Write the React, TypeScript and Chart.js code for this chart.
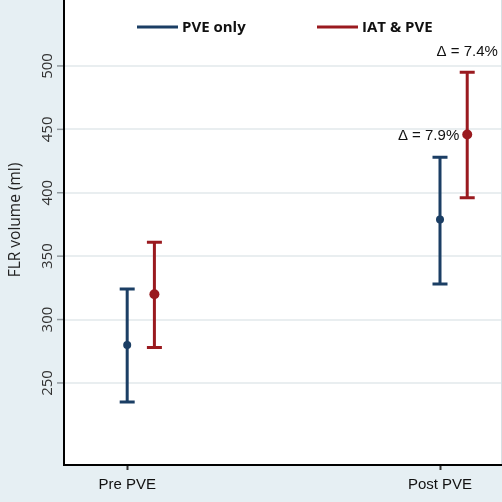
import React, { useEffect, useRef } from "react";
import { Chart, registerables } from "chart.js";

Chart.register(...registerables);

const categories = ["Pre PVE", "Post PVE"];
const seriesNames = ["PVE only", "IAT & PVE"];
const pveMean = [280, 379];
const pveLow = [235, 328];
const pveHigh = [324, 428];
const iatMean = [320, 446];
const iatLow = [278, 396];
const iatHigh = [361, 495];
const yTicks = [250, 300, 350, 400, 450, 500];
const yTitle = "FLR volume (ml)";
const annotations = [
  { series: 1, cat: 1, text: "Δ = 7.4%", pos: "above" },
  { series: 1, cat: 1, text: "Δ = 7.9%", pos: "left" },
];

const BLUE = "#1b3e64";
const RED = "#9a1a1f";
const BG = "#e6eff3";
const OFFSET = 0.087;

const errorBarPlugin = {
  id: "errorbars",
  beforeDraw(chart: any) {
    const { ctx, chartArea } = chart;
    ctx.save();
    ctx.fillStyle = BG;
    ctx.fillRect(0, 0, chart.width, chart.height);
    ctx.fillStyle = "#ffffff";
    ctx.fillRect(chartArea.left, 0, chartArea.right - chartArea.left, chartArea.bottom);
    ctx.strokeStyle = "#d8e0e4";
    ctx.lineWidth = 1;
    ctx.beginPath();
    ctx.moveTo(chartArea.right + 0.5, 0);
    ctx.lineTo(chartArea.right + 0.5, chartArea.bottom);
    ctx.stroke();
    ctx.restore();
  },
  afterDatasetsDraw(chart: any) {
    const { ctx, scales, chartArea } = chart;
    const xs = scales.x;
    const ys = scales.y;
    const series = [
      { mean: pveMean, low: pveLow, high: pveHigh, color: BLUE, off: 0 },
      { mean: iatMean, low: iatLow, high: iatHigh, color: RED, off: OFFSET },
    ];
    ctx.save();
    series.forEach((s) => {
      s.mean.forEach((m, i) => {
        const x = xs.getPixelForValue(i + s.off);
        const yl = ys.getPixelForValue(s.low[i]);
        const yh = ys.getPixelForValue(s.high[i]);
        const ym = ys.getPixelForValue(m);
        ctx.strokeStyle = s.color;
        ctx.lineWidth = 3;
        ctx.beginPath();
        ctx.moveTo(x, yl);
        ctx.lineTo(x, yh);
        ctx.moveTo(x - 7.5, yl);
        ctx.lineTo(x + 7.5, yl);
        ctx.moveTo(x - 7.5, yh);
        ctx.lineTo(x + 7.5, yh);
        ctx.stroke();
        ctx.fillStyle = s.color;
        ctx.beginPath();
        ctx.arc(x, ym, s.off ? 5 : 4, 0, Math.PI * 2);
        ctx.fill();
      });
    });
    // annotations
    ctx.fillStyle = "#111";
    ctx.font = "15px 'Liberation Sans', Arial, sans-serif";
    ctx.textBaseline = "middle";
    annotations.forEach((a) => {
      const s = series[a.series];
      const x = xs.getPixelForValue(a.cat + s.off);
      if (a.pos === "above") {
        ctx.textAlign = "center";
        ctx.fillText(a.text, x, ys.getPixelForValue(s.high[a.cat]) - 20);
      } else {
        ctx.textAlign = "right";
        ctx.fillText(a.text, x - 8, ys.getPixelForValue(s.mean[a.cat]) + 1);
      }
    });
    // legend
    ctx.font = "bold 15px 'Open Sans', 'DejaVu Sans', sans-serif";
    ctx.textAlign = "left";
    const legendY = 27;
    const legendXs = [137, 317];
    const colors = [BLUE, RED];
    seriesNames.forEach((n, i) => {
      ctx.strokeStyle = colors[i];
      ctx.lineWidth = 3;
      ctx.beginPath();
      ctx.moveTo(legendXs[i], legendY);
      ctx.lineTo(legendXs[i] + 41, legendY);
      ctx.stroke();
      ctx.fillStyle = "#111";
      ctx.fillText(n, legendXs[i] + 45, legendY + 1);
    });
    // y tick marks and labels, rotated
    ctx.font = "15px 'Open Sans', 'Liberation Sans', sans-serif";
    ctx.textAlign = "center";
    yTicks.forEach((t) => {
      const y = ys.getPixelForValue(t);
      ctx.strokeStyle = "#8f989d";
      ctx.lineWidth = 1.5;
      ctx.beginPath();
      ctx.moveTo(chartArea.left - 7, y);
      ctx.lineTo(chartArea.left - 1, y);
      ctx.stroke();
      ctx.fillStyle = "#333";
      ctx.save();
      ctx.translate(48, y);
      ctx.rotate(-Math.PI / 2);
      ctx.fillText(String(t), 0, 0);
      ctx.restore();
    });
    // y title
    ctx.font = "15.5px 'Open Sans', 'Liberation Sans', sans-serif";
    ctx.fillStyle = "#222";
    ctx.save();
    ctx.translate(16, 220);
    ctx.rotate(-Math.PI / 2);
    ctx.fillText(yTitle, 0, 0);
    ctx.restore();
    ctx.restore();
  },
};

export default function App() {
  const ref = useRef<HTMLCanvasElement>(null);
  useEffect(() => {
    const chart = new Chart(ref.current!, {
      type: "scatter",
      data: {
        datasets: [
          { label: seriesNames[0], data: [], borderColor: BLUE, backgroundColor: BLUE },
          { label: seriesNames[1], data: [], borderColor: RED, backgroundColor: RED },
        ],
      },
      options: {
        animation: false,
        responsive: false,
        layout: { padding: { top: 0, right: 1, left: 0, bottom: 0 } },
        plugins: { legend: { display: false }, tooltip: { enabled: false } },
        scales: {
          x: {
            type: "linear",
            min: -0.202,
            max: 1.195,
            afterBuildTicks: (s: any) => {
              s.ticks = categories.map((_, i) => ({ value: i }));
            },
            afterFit: (s: any) => {
              s.height = 37;
            },
            ticks: {
              callback: (v: any) => categories[v] ?? "",
              color: "#111",
              font: { size: 15, family: "'Liberation Sans', Arial, sans-serif" },
              padding: 6,
              maxRotation: 0,
              minRotation: 0,
            },
            grid: {
              display: true,
              drawOnChartArea: false,
              drawTicks: true,
              tickLength: 5,
              tickColor: "#333",
              tickWidth: 2,
            },
            border: { display: true, color: "#000", width: 2 },
          },
          y: {
            type: "linear",
            min: 185.3,
            max: 552,
            afterBuildTicks: (s: any) => {
              s.ticks = yTicks.map((v) => ({ value: v }));
            },
            afterFit: (s: any) => {
              s.width = 64;
            },
            ticks: { display: false },
            grid: {
              color: "#e9eef0",
              lineWidth: 2,
              drawTicks: false,
            },
            border: { display: true, color: "#000", width: 2 },
          },
        },
      },
      plugins: [errorBarPlugin],
    } as any);
    return () => chart.destroy();
  }, []);
  return (
    <div style={{ position: "fixed", left: 0, top: 0, width: 502, height: 502 }}>
      <canvas ref={ref} width={502} height={502} style={{ display: "block" }} />
    </div>
  );
}
